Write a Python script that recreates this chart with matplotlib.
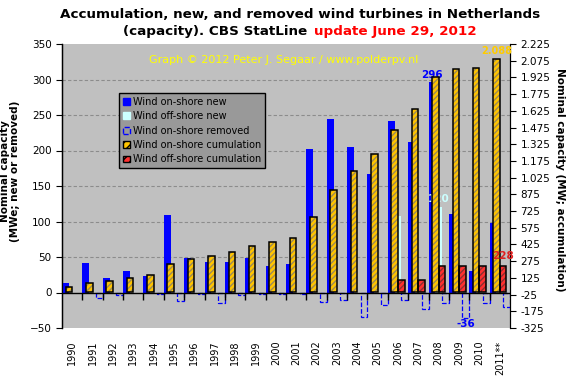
import numpy as np
import matplotlib
matplotlib.use('Agg')
import matplotlib.pyplot as plt
import matplotlib.patches as mpatches

# data (MW)
years = ['1990', '1991', '1992', '1993', '1994', '1995', '1996', '1997', '1998', '1999', '2000',
         '2001', '2002', '2003', '2004', '2005', '2006', '2007', '2008', '2009', '2010', '2011**']
onshore_new = [14, 41, 21, 30, 23, 109, 48, 43, 43, 48, 38, 40,
               202, 244, 205, 167, 241, 212, 296, 110, 30, 98]
offshore_new = [0, 0, 0, 0, 0, 0, 0, 0, 0, 0, 0, 0,
                0, 0, 0, 0, 108, 0, 120, 0, 0, 0]
onshore_removed = [0, -8, -4, 0, -2, -12, -2, -15, -3, -2, -2, -2,
                   -14, -10, -35, -17, -11, -23, -15, -36, -15, -20]
onshore_cum = [47, 83, 101, 128, 155, 254, 298, 325, 361, 415, 451, 487,
               675, 910, 1081, 1233, 1454, 1645, 1929, 2001, 2010, 2088]
offshore_cum = [0, 0, 0, 0, 0, 0, 0, 0, 0, 0, 0, 0,
                0, 0, 0, 0, 108, 108, 228, 228, 228, 228]

x = np.arange(len(years))


def nz(vals):
    # only draw bars that are not zero (Excel leaves empty cells out)
    vals = np.array(vals)
    keep = vals != 0
    return x[keep], vals[keep]


fig = plt.figure(figsize=(5.71, 3.79), dpi=100)
ax = fig.add_axes([62/571, 1-328/379, 448/571, 284/379])
ax.set_facecolor('#C0C0C0')

# primary axis: new / removed
w = 1/3
xs, ys = nz(onshore_new)
ax.bar(xs - w, ys, w, color='#0000FF', zorder=3)
xs, ys = nz(offshore_new)
ax.bar(xs, ys, w, color='#CCFFFF', zorder=3)
xs, ys = nz(onshore_removed)
ax.bar(xs + w, ys, w, fill=False, edgecolor='#0000FF', linestyle='--', linewidth=0.9, zorder=3)

ax.set_xlim(-0.5, len(years) - 0.5)
ax.set_ylim(-50, 350)
ax.set_yticks(np.arange(-50, 351, 50))
for v in range(50, 350, 50):
    ax.axhline(v, color='#8C8C8C', linestyle=(0, (3, 2)), linewidth=0.8, zorder=1)
ax.axhline(0, color='black', linewidth=1.0, zorder=5)
# category tick marks on the zero line
ax.plot(x[:-1] + 0.5, np.zeros(len(x) - 1), linestyle='none', marker=3, markersize=5,
        color='black', markeredgewidth=1, zorder=5, clip_on=False)

ax.set_xticks(x)
ax.set_xticklabels(years, rotation=90, fontsize=7)
ax.tick_params(axis='x', length=0, pad=9)
ax.tick_params(axis='y', labelsize=7.5, length=4, direction='out')
for s in ['top', 'bottom']:
    ax.spines[s].set_visible(False)
ax.spines['left'].set_linewidth(1.0)

# secondary axis: cumulation
ax2 = ax.twinx()
w2 = 0.32
xs, ys = nz(onshore_cum)
ax2.bar(xs - w2/2, ys, w2, color='#FFC400', edgecolor='#9A8A5A', linewidth=0, hatch='//////', zorder=3)
ax2.bar(xs - w2/2, ys, w2, fill=False, edgecolor='black', linewidth=1.1, zorder=4)
xs, ys = nz(offshore_cum)
ax2.bar(xs + w2/2, ys, w2, color='#FF3030', edgecolor='#8A3030', linewidth=0, hatch='//////', zorder=3)
ax2.bar(xs + w2/2, ys, w2, fill=False, edgecolor='black', linewidth=1.1, zorder=4)
ax2.set_ylim(-325, 2225)
rt = np.arange(-325, 2226, 150)
ax2.set_yticks(rt)
ax2.set_yticklabels([f'{v:,}'.replace(',', '.') for v in rt])
ax2.tick_params(axis='y', labelsize=7.5, length=4, direction='out')
for s in ['top', 'bottom']:
    ax2.spines[s].set_visible(False)

# data labels
i = years.index('2008')
ax.text(x[i] - w, onshore_new[i] + 4, str(onshore_new[i]), color='#0000FF', fontsize=7.5,
        fontweight='bold', ha='center', va='bottom', zorder=6)
ax.text(x[i], offshore_new[i] + 4, str(offshore_new[i]), color='#CCFFFF', fontsize=7.5,
        fontweight='bold', ha='center', va='bottom', zorder=6)
i = years.index('2009')
ax.text(x[i] + w, onshore_removed[i] - 2, str(onshore_removed[i]), color='#0000FF', fontsize=7.5,
        fontweight='bold', ha='center', va='top', zorder=6)
i = years.index('2011**')
ax2.text(x[i] - w2/2, onshore_cum[i] + 25, f'{onshore_cum[i]:,}'.replace(',', '.'), color='#FFCC00',
         fontsize=7, fontweight='bold', ha='center', va='bottom', zorder=6)
ax2.text(x[i] + w2/2, offshore_cum[i] + 50, str(offshore_cum[i]), color='#E02020', fontsize=7.5,
         fontweight='bold', ha='center', va='bottom', zorder=6)

# legend
handles = [mpatches.Patch(facecolor='#0000FF', edgecolor='#0000FF'),
           mpatches.Patch(facecolor='#CCFFFF', edgecolor='#CCFFFF'),
           mpatches.Patch(fill=False, edgecolor='#0000FF', linestyle='--'),
           mpatches.Patch(facecolor='#FFC400', edgecolor='black', hatch='////'),
           mpatches.Patch(facecolor='#FF3030', edgecolor='black', hatch='////')]
labels = ['Wind on-shore new', 'Wind off-shore new', 'Wind on-shore removed',
          'Wind on-shore cumulation', 'Wind off-shore cumulation']
leg = ax2.legend(handles, labels, loc='upper left', bbox_to_anchor=(57/448, 235/284),
                 borderaxespad=0, fontsize=7, frameon=True, fancybox=False,
                 facecolor='#999999', edgecolor='black', framealpha=1,
                 handlelength=0.7, handleheight=0.7, handletextpad=0.3,
                 labelspacing=0.45, borderpad=0.4)
leg.get_frame().set_linewidth(1.0)
leg.set_zorder(10)

# axis titles
fig.text(10/571, 1-171/379, 'Nominal capacity\n(MWe; new or removed)', rotation=90,
         fontsize=7.5, fontweight='bold', ha='center', va='center', linespacing=1.1)
fig.text(560/571, 1-180/379, 'Nominal capacity (MW; accumulation)', rotation=-90,
         fontsize=7.5, fontweight='bold', ha='center', va='center')

# title
fig.text(300/571, 1-14/379, 'Accumulation, new, and removed wind turbines in Netherlands',
         fontsize=9.7, fontweight='bold', ha='center', va='center')
fig.text(312/571, 1-31/379, '(capacity). CBS StatLine ', fontsize=9.7, fontweight='bold',
         ha='right', va='center')
fig.text(314/571, 1-31/379, 'update June 29, 2012', fontsize=9.7, fontweight='bold',
         color='#FF0000', ha='left', va='center')

fig.text(149/571, 1-60/379, 'Graph \u00a9 2012 Peter J. Segaar / www.polderpv.nl',
         fontsize=8, color='#FFFF00', ha='left', va='center')

fig.savefig('out.png', dpi=100)
